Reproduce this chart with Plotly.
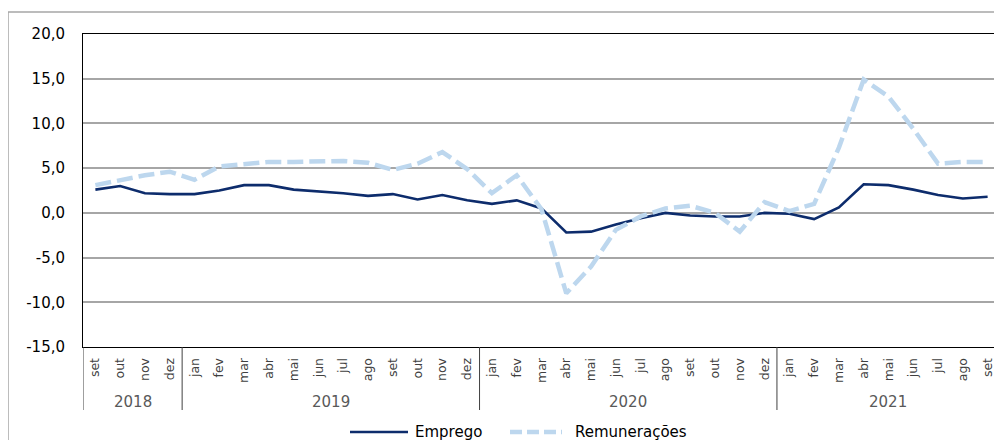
import plotly.graph_objects as go

months = ["set", "out", "nov", "dez",
          "jan", "fev", "mar", "abr", "mai", "jun", "jul", "ago", "set", "out", "nov", "dez",
          "jan", "fev", "mar", "abr", "mai", "jun", "jul", "ago", "set", "out", "nov", "dez",
          "jan", "fev", "mar", "abr", "mai", "jun", "jul", "ago", "set"]
years = ["2018", "2019", "2020", "2021"]
year_counts = [4, 12, 12, 9]

emprego = [2.6, 3.0, 2.2, 2.1,
           2.1, 2.5, 3.1, 3.1, 2.6, 2.4, 2.2, 1.9, 2.1, 1.5, 2.0, 1.4,
           1.0, 1.4, 0.5, -2.2, -2.1, -1.3, -0.6, 0.0, -0.3, -0.4, -0.4, 0.0,
           -0.1, -0.7, 0.6, 3.2, 3.1, 2.6, 2.0, 1.6, 1.8]
remuneracoes = [3.1, 3.7, 4.2, 4.6,
                3.7, 5.2, 5.4, 5.7, 5.7, 5.7, 5.8, 5.6, 4.8, 5.5, 6.8, 4.9,
                2.2, 4.2, 0.4, -9.0, -6.0, -1.9, -0.4, 0.5, 0.8, 0.0, -2.1, 1.2,
                0.2, 1.0, 7.3, 14.9, 13.0, 9.4, 5.5, 5.7, 5.7]

y_ticks = [20, 15, 10, 5, 0, -5, -10, -15]
y_tick_labels = ["20,0", "15,0", "10,0", "5,0", "0,0", "-5,0", "-10,0", "-15,0"]

series_names = ["Emprego", "Remunerações"]
series_colors = ["#0d2c6c", "#bdd7ee"]

FONT = "DejaVu Sans"
x_idx = list(range(len(months)))

# page body has an 8px margin: figure is drawn 8px in from the window edge
W, H = 994, 432
ML, MR, MT, MB = 75, 2, 26, 93
PW, PH = W - ML - MR, H - MT - MB

fig = go.Figure()
fig.add_trace(go.Scatter(
    x=x_idx, y=emprego, mode="lines", name=series_names[0], showlegend=False,
    line=dict(color=series_colors[0], width=2.6),
))
fig.add_trace(go.Scatter(
    x=x_idx, y=remuneracoes, mode="lines", name=series_names[1], showlegend=False,
    line=dict(color=series_colors[1], width=4.5, dash="16px,6px"),
))

# zero line (black)
fig.add_hline(y=0, line=dict(color="black", width=1), layer="below")

# year separators and labels
sep_bottom = -63 / PH
year_y = -55 / PH
start = 0
bounds = [-0.5]
for yr, cnt in zip(years, year_counts):
    end = start + cnt
    bounds.append(end - 0.5)
    fig.add_annotation(x=(start + end - 1) / 2, y=year_y, xref="x", yref="paper",
                       text=yr, showarrow=False,
                       font=dict(family=FONT, size=15, color="#595959"),
                       yanchor="middle")
    start = end
for b in bounds:
    fig.add_shape(type="line", xref="x", yref="paper", x0=b, x1=b, y0=0, y1=sep_bottom,
                  line=dict(color="#404040", width=1))

# outer chart frame
fig.add_shape(type="rect", xref="paper", yref="paper",
              x0=-ML / PW, x1=1.2, y0=-0.5, y1=1 + (MT - 4) / PH,
              line=dict(color="#a6a6a6", width=1.5), layer="below")

# legend (drawn manually to get long keys)
leg_y = -85 / PH
leg_keys = [(267, 325, 330, None), (427, 479, 490, "12px,5px")]
for (k0, k1, tx, dash), name, col in zip(leg_keys, series_names, series_colors):
    fig.add_shape(type="line", xref="paper", yref="paper",
                  x0=k0 / PW, x1=k1 / PW, y0=leg_y, y1=leg_y,
                  line=dict(color=col, width=2.6 if dash is None else 4.5,
                            dash=dash if dash else "solid"))
    fig.add_annotation(x=tx / PW, y=leg_y, xref="paper", yref="paper", text=name,
                       showarrow=False, xanchor="left", yanchor="middle",
                       font=dict(family=FONT, size=15, color="black"))

fig.update_layout(
    width=W, height=H,
    margin=dict(l=ML, r=MR, t=MT, b=MB, autoexpand=False),
    paper_bgcolor="white", plot_bgcolor="white",
    font=dict(family=FONT, size=14, color="black"),
    showlegend=False,
    xaxis=dict(
        range=[-0.5, len(months) - 0.5],
        tickmode="array", tickvals=x_idx, ticktext=months,
        tickangle=-90, showgrid=False, zeroline=False,
        showline=True, linecolor="black", linewidth=1, mirror=True,
        tickfont=dict(family=FONT, size=12.5, color="#404040"),
        ticks="", ticklabelstandoff=5, automargin=False,
    ),
    yaxis=dict(
        range=[-15, 20],
        tickmode="array", tickvals=y_ticks, ticktext=y_tick_labels,
        showgrid=True, gridcolor="#a6a6a6", gridwidth=1.5, zeroline=False,
        showline=True, linecolor="black", linewidth=1, mirror=True,
        tickfont=dict(family=FONT, size=15, color="black"),
        ticks="", ticklabelstandoff=14, automargin=False,
    ),
)

fig.write_html("out.html")
